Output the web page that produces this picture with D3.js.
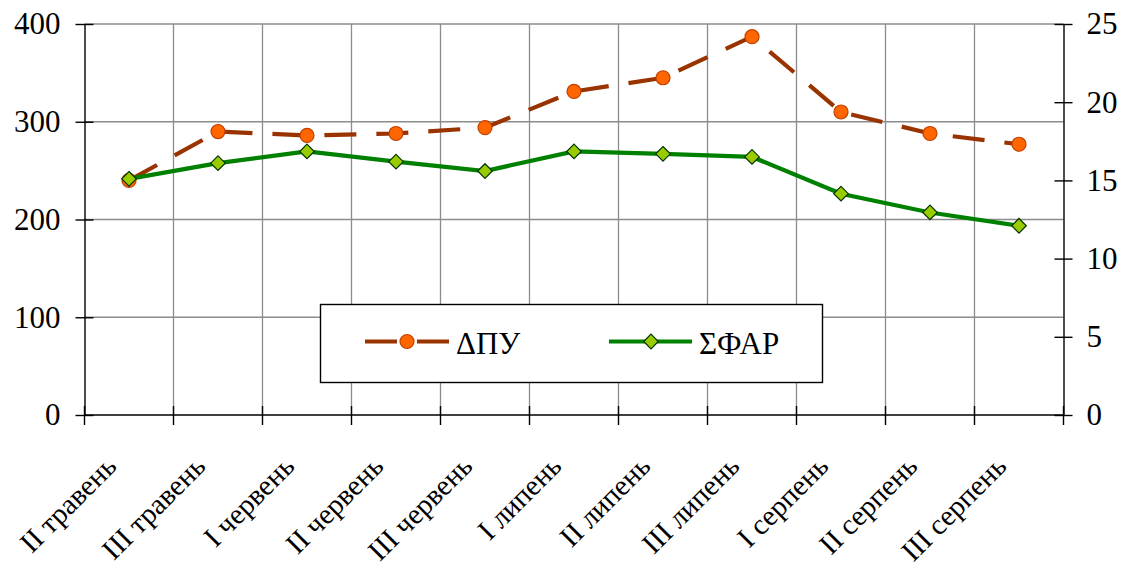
<!DOCTYPE html>
<html>
<head>
<meta charset="utf-8">
<script src="https://cdn.jsdelivr.net/npm/d3@7"></script>
<style>
  html, body { margin: 0; padding: 0; background: #fff; }
  svg { display: block; }
  svg text { font-family: "Liberation Serif", "Times New Roman", "DejaVu Serif", serif; }
</style>
</head>
<body>
<svg id="chart" width="1122" height="569"></svg>
<script>
// Ten-day periods (декади) from May to August
const categories = [
  "II травень", "III травень", "I червень", "II червень", "III червень",
  "I липень", "II липень", "III липень", "I серпень", "II серпень", "III серпень"
];
// ΔПУ — left axis
const dpuValues = [240, 290, 286, 288, 294, 331, 345, 387, 310, 288, 277];
// ΣФАР — right axis
const sfarValues = [15.1, 16.1, 16.85, 16.2, 15.6, 16.85, 16.7, 16.5, 14.15, 12.95, 12.1];
// Axis ticks
const leftTicks = [0, 100, 200, 300, 400];
const rightTicks = [0, 5, 10, 15, 20, 25];
const seriesNames = ["ΔПУ", "ΣФАР"];

const FONT = "'Liberation Serif', 'Times New Roman', 'DejaVu Serif', serif";
const svg = d3.select("#chart");
const plot = { left: 84.5, right: 1063.5, top: 24, bottom: 415 };

const x = d3.scaleBand().domain(categories).range([plot.left, plot.right]).padding(0);
const yL = d3.scaleLinear().domain([0, 400]).range([plot.bottom, plot.top]);
const yR = d3.scaleLinear().domain([0, 25]).range([plot.bottom, plot.top]);

const gridColor = "#8c8c8c";
const fontSize = 31;

// Horizontal gridlines (left axis values)
svg.append("g").selectAll("line")
  .data(leftTicks.filter(d => d > 0))
  .join("line")
  .attr("x1", plot.left).attr("x2", plot.right)
  .attr("y1", d => yL(d)).attr("y2", d => yL(d))
  .attr("stroke", gridColor).attr("stroke-width", 1.3);

// Vertical gridlines at category boundaries
const bounds = categories.map(c => x(c)).concat([x.range()[1]]);
svg.append("g").selectAll("line")
  .data(bounds.slice(1, -1))
  .join("line")
  .attr("x1", d => d).attr("x2", d => d)
  .attr("y1", plot.top).attr("y2", plot.bottom)
  .attr("stroke", gridColor).attr("stroke-width", 1.3);

// Left axis
const gL = svg.append("g")
  .attr("transform", `translate(${plot.left},0)`)
  .call(d3.axisLeft(yL).tickValues(leftTicks).tickSize(9).tickPadding(15).tickSizeOuter(0))
  .attr("font-family", FONT);
gL.select(".domain").attr("stroke", "#000").attr("stroke-width", 1.4);
gL.selectAll(".tick line").attr("x1", -9).attr("x2", 9).attr("stroke", "#000").attr("stroke-width", 1.4);
gL.selectAll(".tick text").attr("font-size", fontSize).attr("font-family", FONT).attr("fill", "#000");

// Right axis
const gR = svg.append("g")
  .attr("transform", `translate(${plot.right},0)`)
  .call(d3.axisRight(yR).tickValues(rightTicks).tickSize(9).tickPadding(14).tickSizeOuter(0))
  .attr("font-family", FONT);
gR.select(".domain").attr("stroke", "#000").attr("stroke-width", 1.4);
gR.selectAll(".tick line").attr("x1", -9).attr("x2", 9).attr("stroke", "#000").attr("stroke-width", 1.4);
gR.selectAll(".tick text").attr("font-size", fontSize).attr("font-family", FONT).attr("fill", "#000");

// Bottom axis with ticks at category boundaries
const gB = svg.append("g").attr("font-family", FONT);
gB.append("line")
  .attr("x1", plot.left).attr("x2", plot.right)
  .attr("y1", plot.bottom).attr("y2", plot.bottom)
  .attr("stroke", "#000").attr("stroke-width", 1.4);
gB.selectAll("line.tick")
  .data(bounds)
  .join("line")
  .attr("class", "tick")
  .attr("x1", d => d).attr("x2", d => d)
  .attr("y1", plot.bottom - 9).attr("y2", plot.bottom + 10)
  .attr("stroke", "#000").attr("stroke-width", 1.4);
gB.selectAll("text")
  .data(categories)
  .join("text")
  .attr("transform", d => `translate(${x(d) + x.bandwidth() / 2 - 11},${plot.bottom + 53}) rotate(-45)`)
  .attr("text-anchor", "end")
  .attr("font-size", 29)
  .attr("font-family", FONT)
  .text(d => d);

const cx = d => x(d) + x.bandwidth() / 2;

// ΔПУ series: dashed brown line with orange circles
const dpuColor = "#993300";
svg.append("path")
  .datum(dpuValues)
  .attr("fill", "none")
  .attr("stroke", dpuColor)
  .attr("stroke-width", 4.2)
  .attr("stroke-dasharray", "32,20")
  .attr("d", d3.line().x((d, i) => cx(categories[i])).y(d => yL(d)));
svg.append("g").selectAll("circle")
  .data(dpuValues)
  .join("circle")
  .attr("cx", (d, i) => cx(categories[i]))
  .attr("cy", d => yL(d))
  .attr("r", 7)
  .attr("fill", "#ff6600")
  .attr("stroke", "#c04000")
  .attr("stroke-width", 1.2);

// ΣФАР series: solid green line with yellow-green diamonds
const sfarColor = "#008000";
const diamond = s => `M0,${-s}L${s},0L0,${s}L${-s},0Z`;
svg.append("path")
  .datum(sfarValues)
  .attr("fill", "none")
  .attr("stroke", sfarColor)
  .attr("stroke-width", 4.2)
  .attr("d", d3.line().x((d, i) => cx(categories[i])).y(d => yR(d)));
svg.append("g").selectAll("path")
  .data(sfarValues)
  .join("path")
  .attr("transform", (d, i) => `translate(${cx(categories[i])},${yR(d)})`)
  .attr("d", diamond(7.3))
  .attr("fill", "#99cc00")
  .attr("stroke", "#003300")
  .attr("stroke-width", 1.2);

// Legend
const lg = svg.append("g").attr("font-family", FONT);
lg.append("rect")
  .attr("x", 320.5).attr("y", 304.5).attr("width", 502).attr("height", 78)
  .attr("fill", "#fff").attr("stroke", "#000").attr("stroke-width", 1.4);
const legY = 341.5;
lg.append("line")
  .attr("x1", 365).attr("x2", 449).attr("y1", legY).attr("y2", legY)
  .attr("stroke", dpuColor).attr("stroke-width", 4.2).attr("stroke-dasharray", "32,20");
lg.append("circle")
  .attr("cx", 407).attr("cy", legY).attr("r", 7)
  .attr("fill", "#ff6600").attr("stroke", "#c04000").attr("stroke-width", 1.2);
lg.append("text")
  .attr("x", 456).attr("y", legY + 12).attr("font-size", fontSize).attr("font-family", FONT)
  .text(seriesNames[0]);
lg.append("line")
  .attr("x1", 609).attr("x2", 692).attr("y1", legY).attr("y2", legY)
  .attr("stroke", sfarColor).attr("stroke-width", 4.2);
lg.append("path")
  .attr("transform", `translate(651,${legY})`)
  .attr("d", diamond(7.3))
  .attr("fill", "#99cc00").attr("stroke", "#003300").attr("stroke-width", 1.2);
lg.append("text")
  .attr("x", 699).attr("y", legY + 12).attr("font-size", fontSize).attr("font-family", FONT)
  .text(seriesNames[1]);
</script>
</body>
</html>
